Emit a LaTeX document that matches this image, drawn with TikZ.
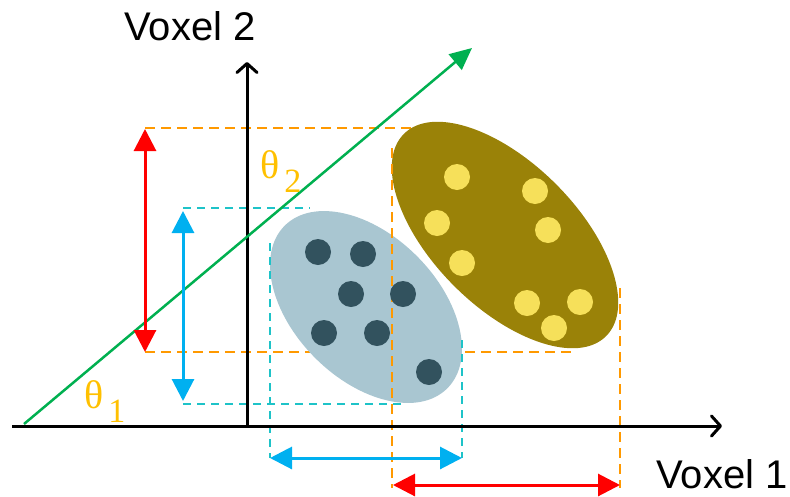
\documentclass[tikz,border=0pt]{standalone}
\usepackage{fontspec}
\setmainfont{Liberation Sans}
\newfontfamily\thetafont{Liberation Serif}
\usetikzlibrary{arrows.meta,shapes.geometric}
\definecolor{cRed}{HTML}{FF0000}
\definecolor{cBlue}{HTML}{00B0F0}
\definecolor{cOrange}{HTML}{FF9900}
\definecolor{cCyan}{HTML}{1EC3C8}
\definecolor{cGreen}{HTML}{00B050}
\definecolor{cGold}{HTML}{9A8208}
\definecolor{cYellow}{HTML}{F6E05A}
\definecolor{cGrey}{HTML}{A9C6D1}
\definecolor{cDark}{HTML}{32525E}
\definecolor{cTheta}{HTML}{FFC000}
\tikzset{
  axisline/.style={line width=3pt, black, -{Straight Barb[length=9pt,width=20pt,line cap=round,line join=round]}},
  odash/.style={cOrange, line width=2pt, dash pattern=on 10pt off 6pt},
  cdash/.style={cCyan, line width=2pt, dash pattern=on 8pt off 6pt},
  darr/.style={line width=3pt, {Triangle[width=22pt,length=22pt]}-{Triangle[width=22pt,length=22pt]}},
  ddot/.style={circle, fill=cDark, minimum size=26pt, inner sep=0pt},
  ydot/.style={circle, fill=cYellow, minimum size=26pt, inner sep=0pt},
  lbl/.style={font=\fontsize{40}{48}\selectfont, inner sep=0pt, anchor=base},
  thlbl/.style={text=cTheta, inner sep=0pt, anchor=base west},
}
\newcommand{\thetalbl}[1]{{\thetafont\fontsize{40}{48}\selectfont θ\hspace{5pt}\raisebox{-14pt}{\fontsize{34}{40}\selectfont #1}}}
\begin{document}
\begin{tikzpicture}[x=1pt,y=-1pt]
\useasboundingbox (0,0) rectangle (790,496);
% coordinates
\coordinate (ot1) at (145,128); \coordinate (ot2) at (418,128);
\coordinate (ob1) at (145,352); \coordinate (ob2) at (572,352);
\coordinate (ct1) at (183,208); \coordinate (ct2) at (310,208);
\coordinate (cb1) at (183,404); \coordinate (cb2) at (406,404);
\coordinate (ov1t) at (392,148); \coordinate (ov1b) at (392,488);
\coordinate (ov2t) at (620,288); \coordinate (ov2b) at (620,488);
\coordinate (cv1t) at (270,243); \coordinate (cv1b) at (270,458);
\coordinate (cv2t) at (462,340); \coordinate (cv2b) at (462,458);
\coordinate (xa0) at (12,426); \coordinate (xa1) at (722,426);
\coordinate (ya0) at (247,426); \coordinate (ya1) at (247,62);
\coordinate (g0) at (24,424); \coordinate (g1) at (472,48);
% horizontal guides (behind clusters)
\draw[odash] (ot1) -- (ot2);
\draw[odash] (ob1) -- (ob2);
\draw[cdash] (ct1) -- (ct2);
\draw[cdash] (cb1) -- (cb2);
% clusters
\node[ellipse, fill=cGrey, minimum width=230pt, minimum height=144pt, inner sep=0pt, rotate=-45] (ellB) at (366,307) {};
\node[ellipse, fill=cGold, minimum width=286pt, minimum height=144pt, inner sep=0pt, rotate=-45] (ellG) at (505,235) {};
% vertical guides
\draw[odash] (ov1t) -- (ov1b);
\draw[odash] (ov2t) -- (ov2b);
\draw[cdash] (cv1t) -- (cv1b);
\draw[cdash] (cv2t) -- (cv2b);
% dots
\node[ddot] (d1) at (318,252) {};
\node[ddot] (d2) at (363,254) {};
\node[ddot] (d3) at (351,294) {};
\node[ddot] (d4) at (403,294) {};
\node[ddot] (d5) at (324,333) {};
\node[ddot] (d6) at (377,333) {};
\node[ddot] (d7) at (429,372) {};
\node[ydot] (y1) at (457,177) {};
\node[ydot] (y2) at (535,191) {};
\node[ydot] (y3) at (437,223) {};
\node[ydot] (y4) at (548,230) {};
\node[ydot] (y5) at (462,263) {};
\node[ydot] (y6) at (527,303) {};
\node[ydot] (y7) at (580,302) {};
\node[ydot] (y8) at (554,328) {};
% axes
\draw[axisline] (xa0) -- (xa1);
\draw[axisline] (ya0) -- (ya1);
% green projection line
\draw[cGreen, line width=2.5pt, -{Triangle[width=20pt,length=22pt]}] (g0) -- (g1);
% double arrows
\coordinate (ra1) at (145,129); \coordinate (ra2) at (145,352);
\coordinate (ba1) at (183,211); \coordinate (ba2) at (183,401);
\coordinate (bh1) at (270,458); \coordinate (bh2) at (462,458);
\coordinate (rh1) at (393,485); \coordinate (rh2) at (620,485);
\draw[darr, cRed] (ra1) -- (ra2);
\draw[darr, cBlue] (ba1) -- (ba2);
\draw[darr, cBlue] (bh1) -- (bh2);
\draw[darr, cRed] (rh1) -- (rh2);
% labels
\node[lbl] (v2) at (190,40) {Voxel 2};
\node[lbl] (v1) at (722,488) {Voxel 1};
\node[thlbl] (th2) at (260,178) {\thetalbl{2}};
\node[thlbl] (th1) at (84,408) {\thetalbl{1}};
\end{tikzpicture}
\end{document}
